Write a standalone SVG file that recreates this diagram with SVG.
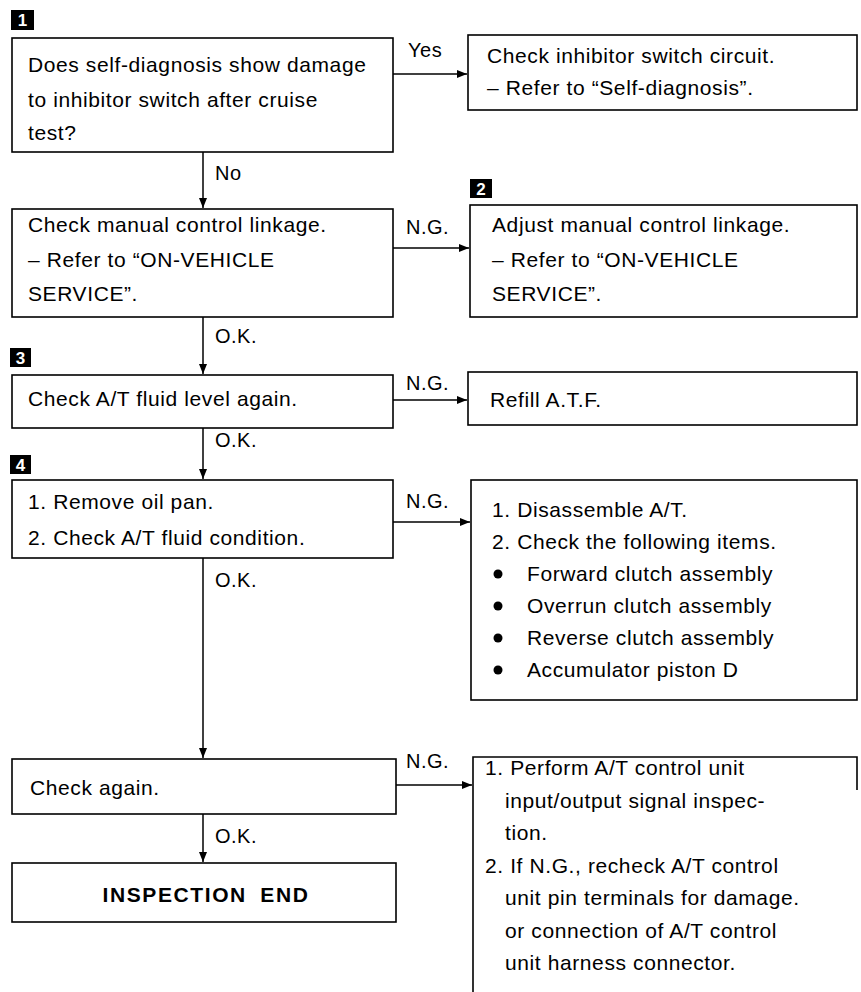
<svg xmlns="http://www.w3.org/2000/svg" width="861" height="992" viewBox="0 0 861 992">
<defs>
<style>
.box{fill:#fff;stroke:#000;stroke-width:1.6}
.t{font-family:"Liberation Sans",Arial,sans-serif;font-size:21px;fill:#000;letter-spacing:0.6px}
.lbl{font-family:"Liberation Sans",Arial,sans-serif;font-size:20px;fill:#000;letter-spacing:0.5px}
.b{font-family:"Liberation Sans",Arial,sans-serif;font-size:21px;font-weight:bold;fill:#000;letter-spacing:1.6px;word-spacing:6px}
.mk{fill:#000}
.mkt{font-family:"Liberation Sans",Arial,sans-serif;font-size:17px;font-weight:bold;fill:#fff;text-anchor:middle}
.ln{fill:none;stroke:#000;stroke-width:1.5}
</style>
<marker id="ah" viewBox="0 0 10 8" refX="10" refY="4" markerWidth="10" markerHeight="8" markerUnits="userSpaceOnUse" orient="auto">
<path d="M0,0 L10,4 L0,8 Z" fill="#000"/>
</marker>
</defs>
<rect width="861" height="992" fill="#fff"/>

<g id="markers">
<rect class="mk" x="11" y="10" width="23" height="20"/><text class="mkt" x="22.5" y="26">1</text>
<rect class="mk" x="470" y="179" width="22" height="19"/><text class="mkt" x="481" y="195">2</text>
<rect class="mk" x="10" y="348" width="21" height="19"/><text class="mkt" x="20.5" y="364">3</text>
<rect class="mk" x="10" y="455" width="21" height="19"/><text class="mkt" x="20.5" y="471">4</text>
</g>

<g id="connectors">
<line class="ln" x1="393" y1="74" x2="467" y2="74" marker-end="url(#ah)"/>
<text class="lbl" x="408" y="57">Yes</text>
<line class="ln" x1="203" y1="152" x2="203" y2="208" marker-end="url(#ah)"/>
<text class="lbl" x="215" y="180">No</text>
<line class="ln" x1="393" y1="248" x2="469" y2="248" marker-end="url(#ah)"/>
<text class="lbl" x="406" y="234">N.G.</text>
<line class="ln" x1="203" y1="317" x2="203" y2="374" marker-end="url(#ah)"/>
<text class="lbl" x="215" y="343">O.K.</text>
<line class="ln" x1="393" y1="400" x2="467" y2="400" marker-end="url(#ah)"/>
<text class="lbl" x="406" y="390">N.G.</text>
<line class="ln" x1="203" y1="428" x2="203" y2="479" marker-end="url(#ah)"/>
<text class="lbl" x="215" y="447">O.K.</text>
<line class="ln" x1="393" y1="522" x2="470" y2="522" marker-end="url(#ah)"/>
<text class="lbl" x="406" y="508">N.G.</text>
<line class="ln" x1="203" y1="558" x2="203" y2="758" marker-end="url(#ah)"/>
<text class="lbl" x="215" y="587">O.K.</text>
<line class="ln" x1="396" y1="785" x2="472" y2="785" marker-end="url(#ah)"/>
<text class="lbl" x="406" y="768">N.G.</text>
<line class="ln" x1="203" y1="814" x2="203" y2="862" marker-end="url(#ah)"/>
<text class="lbl" x="215" y="843">O.K.</text>
</g>

<g id="n1">
<rect class="box" x="12" y="38" width="381" height="114"/>
<text class="t" x="28" y="72">Does self-diagnosis show damage</text>
<text class="t" x="28" y="107">to inhibitor switch after cruise</text>
<text class="t" x="28" y="140">test?</text>
</g>

<g id="n1r">
<rect class="box" x="468" y="35" width="389" height="75"/>
<text class="t" x="487" y="63">Check inhibitor switch circuit.</text>
<text class="t" x="487" y="95">– Refer to “Self-diagnosis”.</text>
</g>

<g id="n2">
<rect class="box" x="12" y="209" width="381" height="108"/>
<text class="t" x="28" y="232">Check manual control linkage.</text>
<text class="t" x="28" y="267">– Refer to “ON-VEHICLE</text>
<text class="t" x="28" y="301">SERVICE”.</text>
</g>

<g id="n2r">
<rect class="box" x="470" y="205" width="387" height="112"/>
<text class="t" x="492" y="232">Adjust manual control linkage.</text>
<text class="t" x="492" y="267">– Refer to “ON-VEHICLE</text>
<text class="t" x="492" y="301">SERVICE”.</text>
</g>

<g id="n3">
<rect class="box" x="12" y="375" width="381" height="53"/>
<text class="t" x="28" y="406">Check A/T fluid level again.</text>
</g>

<g id="n3r">
<rect class="box" x="468" y="372" width="389" height="53"/>
<text class="t" x="490" y="407">Refill A.T.F.</text>
</g>

<g id="n4">
<rect class="box" x="12" y="480" width="381" height="78"/>
<text class="t" x="28" y="509">1. Remove oil pan.</text>
<text class="t" x="28" y="545">2. Check A/T fluid condition.</text>
</g>

<g id="n4r">
<rect class="box" x="471" y="480" width="386" height="220"/>
<text class="t" x="492" y="517">1. Disassemble A/T.</text>
<text class="t" x="492" y="549">2. Check the following items.</text>
<circle cx="498" cy="574" r="4.5"/>
<text class="t" x="527" y="581">Forward clutch assembly</text>
<circle cx="498" cy="606" r="4.5"/>
<text class="t" x="527" y="613">Overrun clutch assembly</text>
<circle cx="498" cy="638" r="4.5"/>
<text class="t" x="527" y="645">Reverse clutch assembly</text>
<circle cx="498" cy="670" r="4.5"/>
<text class="t" x="527" y="677">Accumulator piston D</text>
</g>

<g id="n5">
<rect class="box" x="12" y="759" width="384" height="55"/>
<text class="t" x="30" y="795">Check again.</text>
</g>

<g id="n5r">
<path class="box" d="M857,790 L857,757 L473,757 L473,992" fill="none"/>
<text class="t" x="485" y="775">1. Perform A/T control unit</text>
<text class="t" x="505" y="808">input/output signal inspec-</text>
<text class="t" x="505" y="840">tion.</text>
<text class="t" x="485" y="873">2. If N.G., recheck A/T control</text>
<text class="t" x="505" y="905">unit pin terminals for damage.</text>
<text class="t" x="505" y="938">or connection of A/T control</text>
<text class="t" x="505" y="970">unit harness connector.</text>
</g>

<g id="n6">
<rect class="box" x="12" y="863" width="384" height="59"/>
<text class="b" x="206" y="902" text-anchor="middle">INSPECTION END</text>
</g>
</svg>
